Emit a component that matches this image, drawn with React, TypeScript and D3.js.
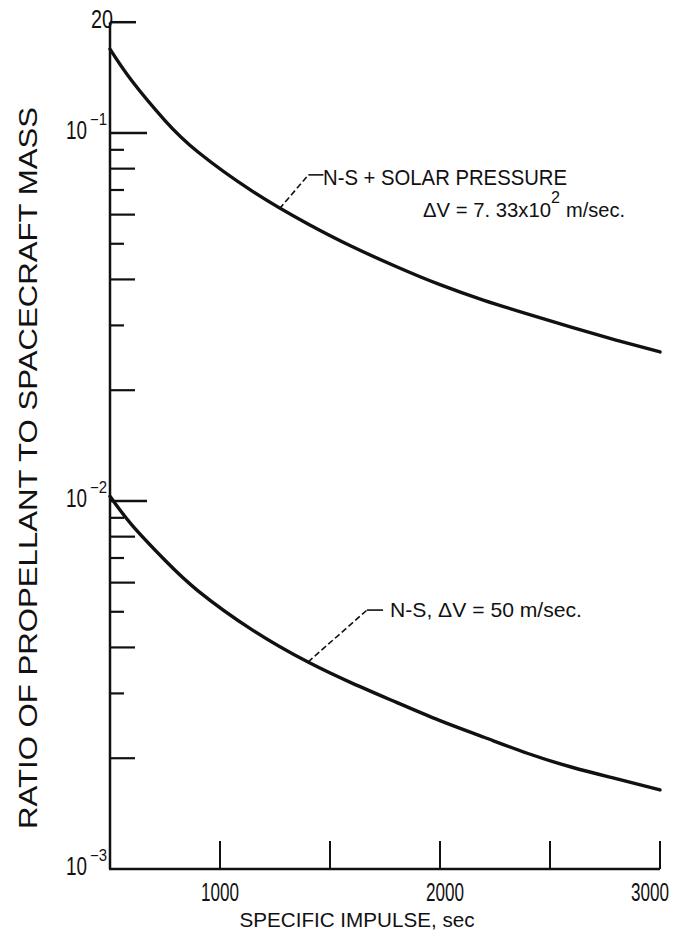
import React from "react";
import * as d3 from "d3";

const ispValues = [500, 600, 750, 900, 1150, 1400, 1600, 1800, 2000, 2200, 2400, 2600, 2800, 3000];
const solarSeries = [0.169, 0.1384, 0.1081, 0.0888, 0.0693, 0.0566, 0.04915, 0.04337, 0.0387, 0.0351, 0.0322, 0.02965, 0.02738, 0.02541];
const nsSeries = [0.0103, 0.0086, 0.0069, 0.0057, 0.00445, 0.00365, 0.0032, 0.00284, 0.00253, 0.00228, 0.00206, 0.00189, 0.00176, 0.00164];
const xTickValues = [1000, 1500, 2000, 2500, 3000];
const xTickLabels = ["1000", "2000", "3000"];
const xLabelValues = [1000, 2000, 3000];
const yDecades = [0.1, 0.01, 0.001];
const yDecadeExp = ["-1", "-2", "-3"];
const yMinorTicks = [0.09, 0.08, 0.07, 0.06, 0.05, 0.04, 0.03, 0.02, 0.009, 0.008, 0.007, 0.006, 0.005, 0.004, 0.003, 0.002];
const yTopValue = 0.2;
const yTopLabel = "20";
const xTitle = "SPECIFIC IMPULSE, sec";
const yTitle = "RATIO OF PROPELLANT TO SPACECRAFT MASS";
const solarLabel1 = "N-S + SOLAR PRESSURE";
const solarLabel2 = "ΔV = 7. 33x10";
const solarLabelSup = "2";
const solarLabel3 = "m/sec.";
const nsLabel = "N-S,  ΔV = 50 m/sec.";

const FONT = "'Liberation Sans', Arial, sans-serif";
const INK = "#111";

export default function App() {
  const x = d3.scaleLinear().domain([500, 3000]).range([110, 660]);
  const y = d3.scaleLog().domain([0.001, 0.2]).range([869, 22.2]);
  const line = d3
    .line<number>()
    .x((_, i) => x(ispValues[i]))
    .y((d) => y(d))
    .curve(d3.curveNatural);

  const minorLen = (v: number) => {
    const m = Math.round(v / Math.pow(10, Math.floor(Math.log10(v) + 1e-9)));
    return m % 2 === 0 ? 25 : 14;
  };

  const solarAnchor = [x(1270), y(0.0622)];
  const nsAnchor = [x(1400), y(0.00365)];

  return (
    <svg
      width={681}
      height={940}
      style={{ position: "absolute", left: 0, top: 0, background: "#fff" }}
      fontFamily={FONT}
    >
      <rect width={681} height={940} fill="#fff" />
      <line x1={x(500)} x2={x(500)} y1={y(yTopValue)} y2={y(0.001)} stroke={INK} strokeWidth={2.5} />
      <line x1={x(500) - 1} x2={x(3000)} y1={y(0.001)} y2={y(0.001)} stroke={INK} strokeWidth={2.5} />
      <line x1={x(500)} x2={x(500) + 26} y1={y(yTopValue)} y2={y(yTopValue)} stroke={INK} strokeWidth={2.5} />
      <text x={113} y={y(yTopValue) + 6} fontSize={25} textAnchor="end" textLength={22} lengthAdjust="spacingAndGlyphs" fill={INK}>
        {yTopLabel}
      </text>
      {yDecades.map((v, i) => (
        <g key={"d" + v}>
          {v > 0.001 && (
            <line x1={x(500)} x2={x(500) + 37} y1={y(v)} y2={y(v)} stroke={INK} strokeWidth={2.5} />
          )}
          <text x={87} y={y(v) + 6} fontSize={25} textAnchor="end" textLength={21} lengthAdjust="spacingAndGlyphs" fill={INK}>
            10
          </text>
          <text x={90} y={y(v) - 8} fontSize={16} textAnchor="start" textLength={17} lengthAdjust="spacingAndGlyphs" fill={INK}>
            {yDecadeExp[i].replace("-", "−")}
          </text>
        </g>
      ))}
      {yMinorTicks.map((v) => (
        <line key={"m" + v} x1={x(500)} x2={x(500) + minorLen(v)} y1={y(v)} y2={y(v)} stroke={INK} strokeWidth={2.2} />
      ))}
      {xTickValues.map((v) => (
        <line key={"x" + v} x1={x(v)} x2={x(v)} y1={y(0.001)} y2={y(0.001) - 28} stroke={INK} strokeWidth={2} />
      ))}
      {xLabelValues.map((v, i) => {
        const last = i === xLabelValues.length - 1;
        return (
          <text
            key={"xl" + v}
            x={last ? 669 : x(v) + (i === 1 ? 5 : 0)}
            y={901}
            fontSize={26}
            textAnchor={last ? "end" : "middle"}
            textLength={38}
            lengthAdjust="spacingAndGlyphs"
            fill={INK}
          >
            {xTickLabels[i]}
          </text>
        );
      })}
      <text x={357} y={927} fontSize={21} textAnchor="middle" textLength={235} lengthAdjust="spacingAndGlyphs" fill={INK}>
        {xTitle}
      </text>
      <text
        transform="translate(37,468) rotate(-90)"
        fontSize={26}
        textAnchor="middle"
        textLength={722}
        lengthAdjust="spacingAndGlyphs"
        fill={INK}
      >
        {yTitle}
      </text>
      <path d={line(solarSeries) || ""} fill="none" stroke={INK} strokeWidth={3.4} strokeLinecap="round" />
      <path d={line(nsSeries) || ""} fill="none" stroke={INK} strokeWidth={3.4} strokeLinecap="round" />
      <path
        d={`M${solarAnchor[0]},${solarAnchor[1]} L${solarAnchor[0] + 29},${solarAnchor[1] - 34}`}
        stroke={INK}
        strokeWidth={1.6}
        strokeDasharray="6,3"
        fill="none"
      />
      <line x1={solarAnchor[0] + 29} x2={solarAnchor[0] + 44} y1={solarAnchor[1] - 34} y2={solarAnchor[1] - 34} stroke={INK} strokeWidth={1.6} />
      <path
        d={`M${nsAnchor[0]},${nsAnchor[1]} L${nsAnchor[0] + 59},${nsAnchor[1] - 52}`}
        stroke={INK}
        strokeWidth={1.6}
        strokeDasharray="6,3"
        fill="none"
      />
      <line x1={nsAnchor[0] + 59} x2={nsAnchor[0] + 75} y1={nsAnchor[1] - 52} y2={nsAnchor[1] - 52} stroke={INK} strokeWidth={1.6} />
      <text x={323} y={185} fontSize={22} textLength={244} lengthAdjust="spacingAndGlyphs" fill={INK}>
        {solarLabel1}
      </text>
      <text x={423} y={217} fontSize={21} textLength={128} lengthAdjust="spacingAndGlyphs" fill={INK}>
        {solarLabel2}
      </text>
      <text x={551} y={203} fontSize={17} textLength={9} lengthAdjust="spacingAndGlyphs" fill={INK}>
        {solarLabelSup}
      </text>
      <text x={566} y={217} fontSize={21} textLength={59} lengthAdjust="spacingAndGlyphs" fill={INK}>
        {solarLabel3}
      </text>
      <text x={390} y={617} fontSize={21} textLength={192} lengthAdjust="spacingAndGlyphs" fill={INK}>
        {nsLabel}
      </text>
    </svg>
  );
}
